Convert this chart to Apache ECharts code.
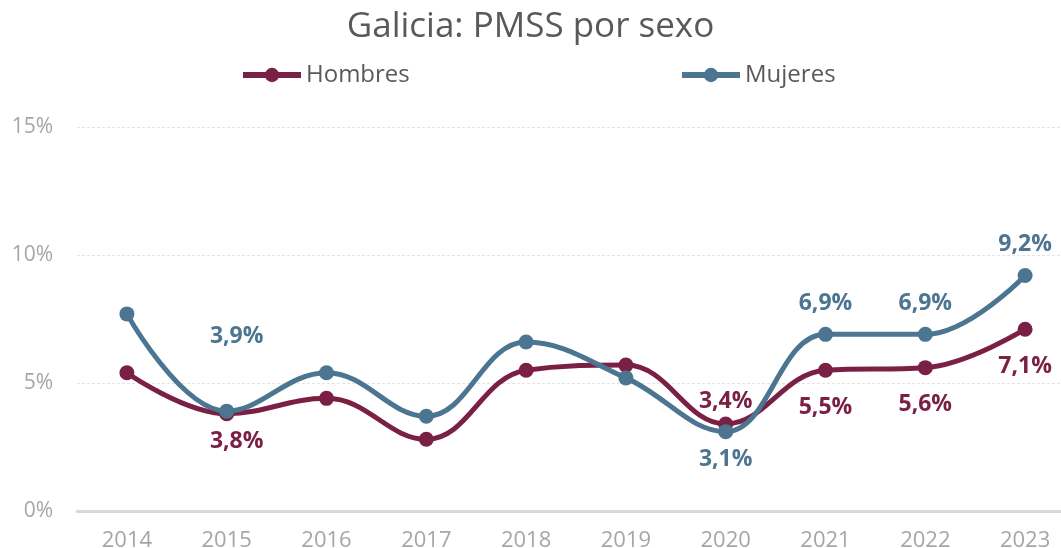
<!DOCTYPE html>
<html>
<head>
<meta charset="utf-8">
<script src="https://cdn.jsdelivr.net/npm/echarts@6/dist/echarts.min.js"></script>
<style>
  html, body { margin: 0; padding: 0; background: #fff; }
  #chart { width: 1061px; height: 548px; }
</style>
</head>
<body>
<div id="chart"></div>
<script>
const years = ["2014", "2015", "2016", "2017", "2018", "2019", "2020", "2021", "2022", "2023"];
const hombres = [5.4, 3.8, 4.4, 2.8, 5.5, 5.7, 3.4, 5.5, 5.6, 7.1];
const mujeres = [7.7, 3.9, 5.4, 3.7, 6.6, 5.2, 3.1, 6.9, 6.9, 9.2];
// which points carry a label, and where
const hombresLabels = { 1: "bottom", 6: "top", 7: "bottom", 8: "bottom", 9: "bottom" };
const mujeresLabels = { 1: "top", 6: "bottom", 7: "top", 8: "top", 9: "top" };

const colorH = "#7b2045";
const colorM = "#4b7590";
const font = "'Open Sans', sans-serif";

function fmt(v) {
  return v.toFixed(1).replace(".", ",") + "%";
}

function buildData(values, labels, color) {
  return values.map((v, i) => {
    const pos = labels[i];
    if (!pos) return v;
    let distance = pos === "top" ? 12 : 18;
    let offset = [0, 0];
    if (i === 1 && pos === "top") { distance = 12; offset = [10, -44]; }
    if (i === 1 && pos === "bottom") { distance = 9; offset = [10, 0]; }
    if (i === 6) distance = pos === "top" ? 4 : 9;
    return {
      value: v,
      label: {
        show: true,
        position: pos,
        distance: distance,
        offset: offset,
        formatter: (p) => fmt(p.value),
        color: color,
        fontSize: 23,
        fontWeight: "bold",
        fontFamily: font
      }
    };
  });
}

const chart = echarts.init(document.getElementById("chart"));

const legendText = { color: "#595959", fontSize: 24, fontFamily: font };

const option = {
  animation: false,
  title: {
    text: "Galicia: PMSS por sexo",
    left: "center",
    top: 5,
    textStyle: { color: "#595959", fontSize: 35, fontWeight: "normal", fontFamily: font }
  },
  legend: [
    {
      data: ["Hombres"],
      left: 235, top: 58,
      itemWidth: 58, itemHeight: 18, itemGap: 4,
      lineStyle: { width: 6 },
      textStyle: legendText
    },
    {
      data: ["Mujeres"],
      left: 674, top: 58,
      itemWidth: 58, itemHeight: 18, itemGap: 4,
      lineStyle: { width: 6 },
      textStyle: legendText
    }
  ],
  grid: { left: 77, top: 127, bottom: 37, right: -14, outerBoundsMode: "none", containLabel: false },
  xAxis: {
    type: "category",
    data: years,
    boundaryGap: true,
    axisLine: { lineStyle: { color: "#d9d9d9", width: 3 } },
    axisTick: { show: false },
    axisLabel: { color: "#a6a6a6", fontSize: 22, margin: 19, fontFamily: font }
  },
  yAxis: {
    type: "value",
    min: 0, max: 15, interval: 5,
    axisLine: { show: false },
    axisTick: { show: false },
    axisLabel: { color: "#a6a6a6", fontSize: 21, margin: 24, formatter: "{value}%", fontFamily: font },
    splitLine: { lineStyle: { color: "#e4e4e4", type: [3, 2], width: 1 } }
  },
  series: [
    {
      name: "Hombres",
      type: "line",
      smooth: 0.4,
      data: buildData(hombres, hombresLabels, colorH),
      symbol: "circle",
      symbolSize: 15,
      itemStyle: { color: colorH },
      lineStyle: { color: colorH, width: 5 },
      z: 2
    },
    {
      name: "Mujeres",
      type: "line",
      smooth: 0.4,
      data: buildData(mujeres, mujeresLabels, colorM),
      symbol: "circle",
      symbolSize: 15,
      itemStyle: { color: colorM },
      lineStyle: { color: colorM, width: 5 },
      z: 3
    }
  ]
};

chart.setOption(option);
</script>
</body>
</html>
